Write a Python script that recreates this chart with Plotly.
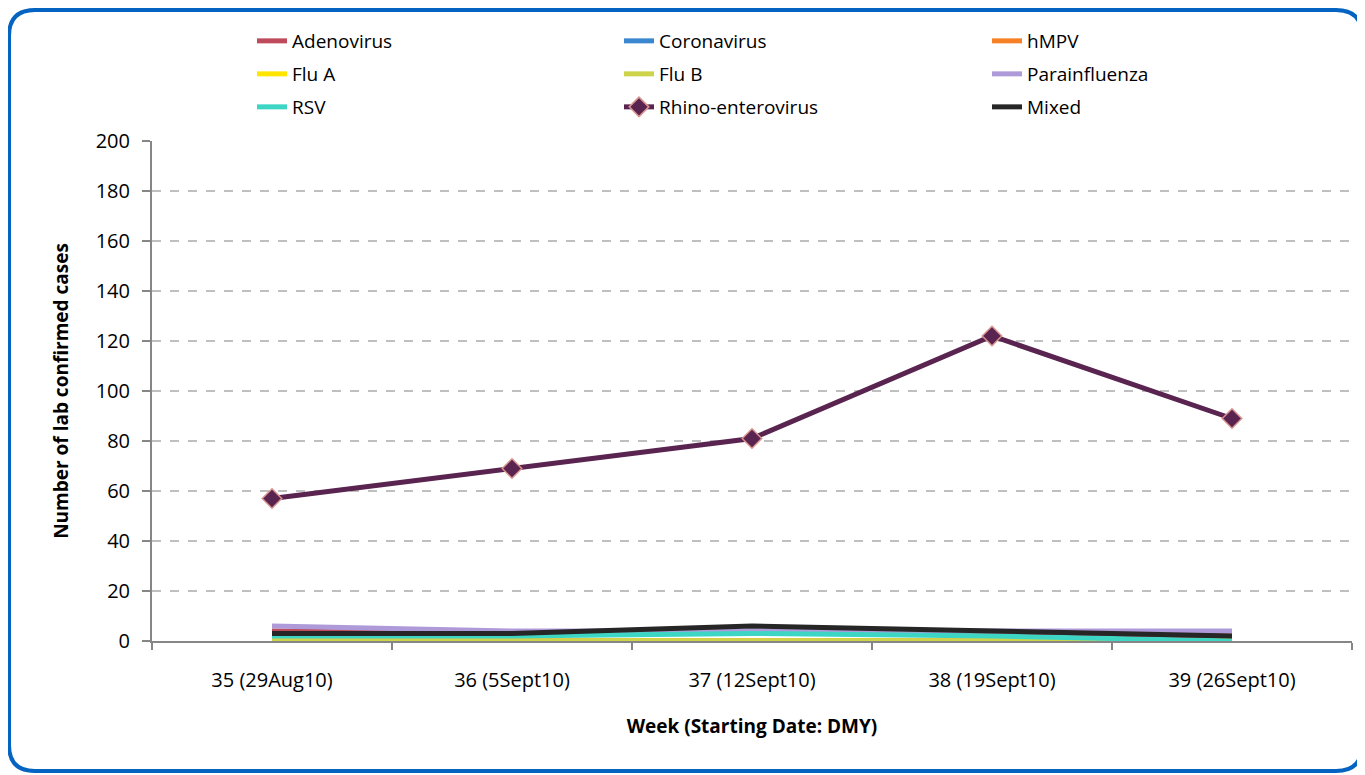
import plotly.graph_objects as go

weeks = ["35 (29Aug10)", "36 (5Sept10)", "37 (12Sept10)", "38 (19Sept10)", "39 (26Sept10)"]

adenovirus = [4, 3, 3, 3, 2]
coronavirus = [0, 0, 0, 0, 0]
hmpv = [0, 0, 0, 0, 0]
flu_a = [0, 0, 0, 0, 0]
flu_b = [0, 0, 0, 0, 0]
parainfluenza = [6, 4, 4, 4, 4]
rsv = [2, 2, 3, 2, 0]
rhino_enterovirus = [57, 69, 81, 122, 89]
mixed = [3, 3, 6, 4, 2]

series_names = ["Adenovirus", "Coronavirus", "hMPV", "Flu A", "Flu B",
                "Parainfluenza", "RSV", "Rhino-enterovirus", "Mixed"]
series_values = [adenovirus, coronavirus, hmpv, flu_a, flu_b,
                 parainfluenza, rsv, rhino_enterovirus, mixed]
series_colors = ["#BE4B5B", "#3A87D0", "#F58025", "#FFE500", "#CDD44A",
                 "#AE9AD9", "#3DD6C5", "#5A2450", "#262626"]

FONT = "Open Sans"

# page has an 8px body margin: work in page pixels, convert to figure pixels
OFF = 8
W, H = 1365 - OFF, 775 - OFF
L, T = 152 - OFF, 141 - OFF
R = W - (1352 - OFF)
B = H - (641 - OFF)
pw, ph = W - L - R, H - T - B


def px(x):
    return (x - OFF - L) / pw


def py(y):
    return (H - B - (y - OFF)) / ph


fig = go.Figure()
legend_layout = {}
col_x = [252, 619, 987]
row_y = [41, 74, 107]
for i, (name, vals, color) in enumerate(zip(series_names, series_values, series_colors)):
    lg = "legend" if i == 0 else f"legend{i + 1}"
    legend_layout[lg] = dict(
        orientation="h", xanchor="left", yanchor="middle",
        x=px(col_x[i % 3]), y=py(row_y[i // 3]),
        font=dict(family=FONT, size=19, color="#000000"),
        bgcolor="rgba(0,0,0,0)", itemclick=False, itemdoubleclick=False,
    )
    if name == "Rhino-enterovirus":
        fig.add_trace(go.Scatter(
            x=weeks, y=vals, name=name, mode="lines+markers", legend=lg,
            line=dict(color=color, width=5),
            marker=dict(symbol="diamond", size=15, color=color,
                        line=dict(color="#D9948E", width=1.5)),
        ))
    else:
        fig.add_trace(go.Scatter(
            x=weeks, y=vals, name=name, mode="lines", legend=lg,
            line=dict(color=color, width=5),
        ))

# rounded border (decoration), page pixels
x0, x1, y0, y1, r = 9, 1362, 10, 771, 26
rx, ry = r / pw, r / ph
path = (
    f"M {px(x0)+rx},{py(y0)} L {px(x1)-rx},{py(y0)} "
    f"Q {px(x1)},{py(y0)} {px(x1)},{py(y0)-ry} "
    f"L {px(x1)},{py(y1)+ry} Q {px(x1)},{py(y1)} {px(x1)-rx},{py(y1)} "
    f"L {px(x0)+rx},{py(y1)} Q {px(x0)},{py(y1)} {px(x0)},{py(y1)+ry} "
    f"L {px(x0)},{py(y0)-ry} Q {px(x0)},{py(y0)} {px(x0)+rx},{py(y0)} Z"
)

fig.update_layout(
    width=W, height=H,
    margin=dict(l=L, r=R, t=T, b=B),
    paper_bgcolor="#FFFFFF", plot_bgcolor="#FFFFFF",
    font=dict(family=FONT, size=20, color="#000000"),
    showlegend=True,
    shapes=[dict(type="path", path=path, xref="paper", yref="paper",
                 line=dict(color="#0563C1", width=4), layer="below")],
    xaxis=dict(
        type="category", range=[-0.5, 4.5],
        showline=True, linecolor="#868686", linewidth=2,
        ticks="outside", tickson="boundaries", ticklen=7, tickcolor="#868686", tickwidth=2,
        showgrid=False, tickfont=dict(family=FONT, size=20),
        ticklabelstandoff=20,
        title=dict(text="<b>Week (Starting Date: DMY)</b>", font=dict(family=FONT, size=19), standoff=28),
    ),
    yaxis=dict(
        range=[0, 200], dtick=20,
        showline=True, linecolor="#868686", linewidth=2,
        ticks="outside", ticklen=8, tickcolor="#868686", tickwidth=2,
        showgrid=True, gridcolor="#BFBFBF", griddash="dash", gridwidth=1.5,
        zeroline=False, tickfont=dict(family=FONT, size=20),
        ticklabelstandoff=8,
        title=dict(text="<b>Number of lab confirmed cases</b>", font=dict(family=FONT, size=19), standoff=22),
    ),
)
fig.update_layout(**legend_layout)

fig.write_html("out.html")
